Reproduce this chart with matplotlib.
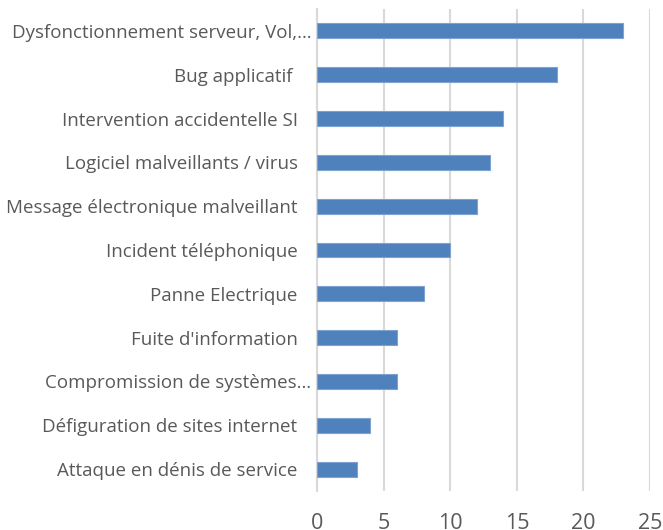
import matplotlib
matplotlib.use("Agg")
import matplotlib.pyplot as plt
from matplotlib.transforms import ScaledTranslation

categories = [
    "Dysfonctionnement serveur, Vol,…",
    "Bug applicatif ",
    "Intervention accidentelle SI",
    "Logiciel malveillants / virus",
    "Message électronique malveillant",
    "Incident téléphonique",
    "Panne Electrique",
    "Fuite d'information",
    "Compromission de systèmes…",
    "Défiguration de sites internet",
    "Attaque en dénis de service",
]
values = [23, 18, 14, 13, 12, 10, 8, 6, 6, 4, 3]
xticks = [0, 5, 10, 15, 20, 25]

plt.rcParams['font.family'] = ['Open Sans', 'DejaVu Sans']
fig = plt.figure(figsize=(6.63, 5.30), dpi=100)
ax = fig.add_axes([317/663, 1-491/530, (650-317)/663, (491-9)/530])

pos = list(range(len(categories)))[::-1]
ax.barh(pos, values, height=0.34, color='#4f81bd', edgecolor='#7ea3d2', linewidth=0.8, zorder=3)
ax.set_ylim(-0.5, len(categories)-0.5)
ax.set_xlim(0, 25)
ax.set_xticks(xticks)
ax.set_yticks(pos)
ax.set_yticklabels(categories, fontsize=13.5, color='#595959')
ax.tick_params(axis='x', length=0, pad=16, labelsize=15.5, labelcolor='#595959')
ax.tick_params(axis='y', length=0, pad=14)
for lab in ax.get_yticklabels():
    if lab.get_text().endswith("…"):
        lab.set_transform(lab.get_transform() + ScaledTranslation(0.14, 0, fig.dpi_scale_trans))
for s in ['top', 'right', 'bottom']:
    ax.spines[s].set_visible(False)
ax.spines['left'].set_color('#d9d9d9')
ax.spines['left'].set_linewidth(1.5)
ax.xaxis.grid(True, color='#d9d9d9', linewidth=1.5, zorder=0)
ax.set_axisbelow(True)
fig.savefig("out.png", dpi=100)
